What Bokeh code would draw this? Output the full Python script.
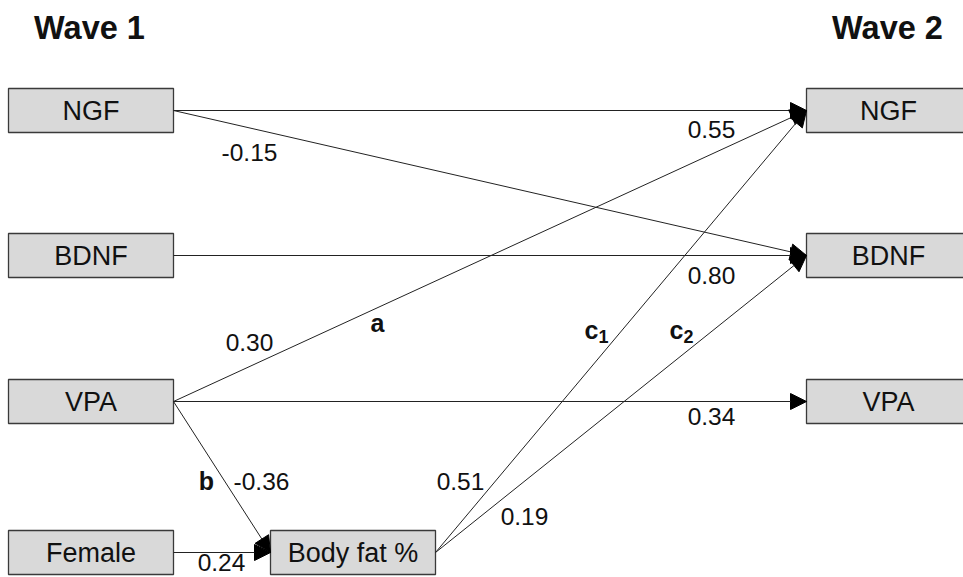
from bokeh.plotting import figure
from bokeh.models import Range1d, Arrow, NormalHead, ColumnDataSource
from bokeh.core.properties import value
from bokeh.embed import file_html
from bokeh.resources import INLINE

# ---- content ----
wave_titles = ["Wave 1", "Wave 2"]
node_ids = ["NGF1", "BDNF1", "VPA1", "Female", "BodyFat", "NGF2", "BDNF2", "VPA2"]
node_labels = ["NGF", "BDNF", "VPA", "Female", "Body fat %", "NGF", "BDNF", "VPA"]
edge_from = ["NGF1", "NGF1", "BDNF1", "VPA1", "VPA1", "VPA1", "Female", "BodyFat", "BodyFat"]
edge_to = ["NGF2", "BDNF2", "BDNF2", "NGF2", "VPA2", "BodyFat", "BodyFat", "NGF2", "BDNF2"]
edge_coef = ["0.55", "-0.15", "0.80", "0.30", "0.34", "-0.36", "0.24", "0.51", "0.19"]
path_names = ["a", "b", "c", "c"]
path_subs = ["", "", "1", "2"]

# ---- layout (page pixels) ----
node_cx = {"NGF1": 90.5, "BDNF1": 90.5, "VPA1": 90.5, "Female": 90.5, "BodyFat": 352.5,
           "NGF2": 888, "BDNF2": 888, "VPA2": 888}
node_cy = {"NGF1": 110, "BDNF1": 255, "VPA1": 401, "Female": 552, "BodyFat": 552,
           "NGF2": 110, "BDNF2": 255, "VPA2": 401}
node_w = {"NGF1": 165, "BDNF1": 165, "VPA1": 165, "Female": 165, "BodyFat": 165,
          "NGF2": 164, "BDNF2": 164, "VPA2": 164}
node_h = 44
coef_pos = [(711, 129), (249, 152), (711, 275), (249, 342), (711, 416),
            (261, 481), (221, 562), (460, 481), (524, 516)]
path_pos = [(377, 322), (206, 480), (591, 329), (676, 329)]
title_pos = [(89, 27), (887, 27)]

FONT = value("Liberation Sans")

p = figure(width=963, height=577, output_backend="svg", toolbar_location=None,
           x_range=Range1d(0, 963), y_range=Range1d(577, 0),
           min_border=0, outline_line_color=None)
p.axis.visible = False
p.grid.visible = False
p.background_fill_color = "white"
p.border_fill_color = "white"

# edges
xs0, ys0, xs1, ys1 = [], [], [], []
for a, b in zip(edge_from, edge_to):
    xs0.append(node_cx[a] + node_w[a] / 2)
    ys0.append(node_cy[a])
    xs1.append(node_cx[b] - node_w[b] / 2)
    ys1.append(node_cy[b])
esrc = ColumnDataSource(dict(x0=xs0, y0=ys0, x1=xs1, y1=ys1))
p.add_layout(Arrow(x_start="x0", y_start="y0", x_end="x1", y_end="y1", source=esrc,
                   line_color="#222222", line_width=1,
                   end=NormalHead(size=16, fill_color="black", line_color="black", line_width=1)))

# boxes
bsrc = ColumnDataSource(dict(
    x=[node_cx[n] for n in node_ids], y=[node_cy[n] for n in node_ids],
    w=[node_w[n] for n in node_ids], h=[node_h] * len(node_ids), label=node_labels))
p.rect(x="x", y="y", width="w", height="h", source=bsrc, fill_color="#d9d9d9",
       line_color="#3a3a3a", line_width=1.3)
p.text(x="x", y="y", text="label", source=bsrc, text_font=FONT, text_font_size="27px",
       text_align="center", text_baseline="middle", text_color="#111111")

# coefficient labels
csrc = ColumnDataSource(dict(x=[c[0] for c in coef_pos], y=[c[1] for c in coef_pos], t=edge_coef))
p.text(x="x", y="y", text="t", source=csrc, text_font=FONT, text_font_size="24.5px",
       text_align="center", text_baseline="middle", text_color="#111111")

# path names (bold, with subscripts)
psrc = ColumnDataSource(dict(x=[c[0] for c in path_pos], y=[c[1] for c in path_pos], t=path_names))
p.text(x="x", y="y", text="t", source=psrc, text_font=FONT, text_font_size="25px",
       text_font_style="bold", text_align="center", text_baseline="middle", text_color="#111111")
sub_x = [c[0] + 7 for c, s in zip(path_pos, path_subs) if s]
sub_y = [c[1] + 7 for c, s in zip(path_pos, path_subs) if s]
sub_t = [s for s in path_subs if s]
ssrc = ColumnDataSource(dict(x=sub_x, y=sub_y, t=sub_t))
p.text(x="x", y="y", text="t", source=ssrc, text_font=FONT, text_font_size="18px",
       text_font_style="bold", text_align="left", text_baseline="middle", text_color="#111111")

# wave titles
tsrc = ColumnDataSource(dict(x=[c[0] for c in title_pos], y=[c[1] for c in title_pos], t=wave_titles))
p.text(x="x", y="y", text="t", source=tsrc, text_font=FONT, text_font_size="32.5px",
       text_font_style="bold", text_align="center", text_baseline="middle", text_color="#111111")

open("out.html", "w").write(file_html(p, INLINE))
